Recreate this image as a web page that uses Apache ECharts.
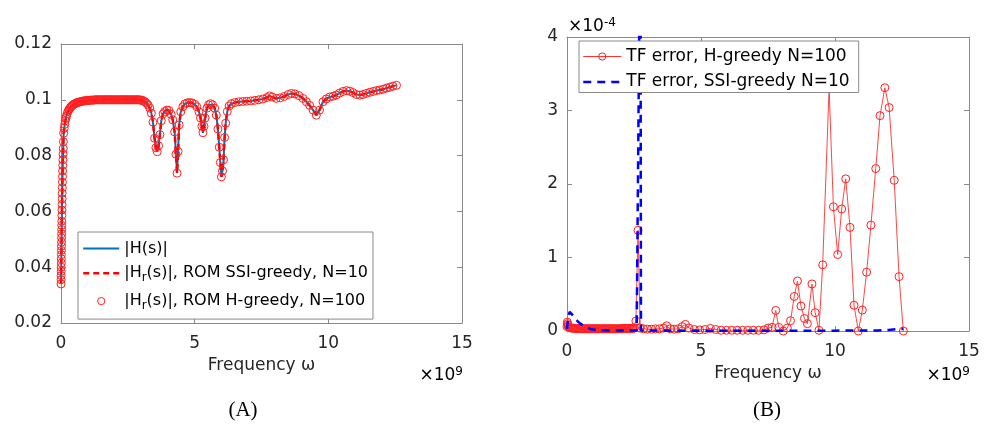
<!DOCTYPE html>
<html>
<head>
<meta charset="utf-8">
<script src="https://cdn.jsdelivr.net/npm/echarts@6/dist/echarts.min.js"></script>
<style>html,body{margin:0;padding:0;background:#fff}#c{width:992px;height:429px}</style>
</head>
<body>
<div id="c"></div>
<script>
// ---------- Panel (A): transfer function magnitude (frequency in units of 1e9) ----------
const freqA = [
  0, 0.002, 0.004, 0.006, 0.008, 0.01, 0.012, 0.014, 0.016, 0.018,
  0.02, 0.022, 0.024, 0.026, 0.028, 0.03, 0.033, 0.036, 0.039, 0.042,
  0.045, 0.049, 0.053, 0.057, 0.061, 0.066, 0.071, 0.077, 0.083, 0.09,
  0.1,
  0.12, 0.14, 0.16, 0.18, 0.2, 0.23, 0.26, 0.29, 0.32, 0.35,
  0.38, 0.41, 0.44, 0.48, 0.52, 0.56, 0.6, 0.64, 0.68, 0.72,
  0.76, 0.8, 0.84, 0.88, 0.92, 0.96, 1.0, 1.04, 1.08, 1.12,
  1.16, 1.2, 1.24, 1.28, 1.32, 1.36, 1.4, 1.44, 1.48, 1.52,
  1.56, 1.6, 1.64, 1.68, 1.72, 1.76, 1.8, 1.84, 1.88, 1.92,
  1.96, 2.0, 2.04, 2.08, 2.12, 2.16, 2.2, 2.24, 2.28, 2.32,
  2.36, 2.4, 2.44, 2.48, 2.52, 2.56, 2.6, 2.64, 2.68, 2.72,
  2.76, 2.8, 2.84, 2.88, 2.92, 2.96, 3.0, 3.05, 3.1, 3.15,
  3.2, 3.26, 3.32, 3.38, 3.44, 3.5, 3.55, 3.6, 3.65, 3.7,
  3.75, 3.82, 3.88, 3.96, 4.04, 4.12, 4.18, 4.25, 4.3, 4.34,
  4.38, 4.42, 4.48, 4.56, 4.63, 4.72, 4.81, 4.9, 5.0, 5.08,
  5.16, 5.22, 5.27, 5.31, 5.35, 5.39, 5.46, 5.52, 5.59, 5.67,
  5.75, 5.81, 5.87, 5.92, 5.96, 6.0, 6.04, 6.08, 6.12, 6.16,
  6.22, 6.29, 6.37, 6.5, 6.65, 6.8, 6.95, 7.1, 7.25, 7.4,
  7.55, 7.7, 7.8, 7.9, 8.05, 8.2, 8.35, 8.5, 8.62, 8.75,
  8.9, 9.05, 9.18, 9.3, 9.43, 9.55, 9.67, 9.8, 9.92, 10.05,
  10.18, 10.3, 10.42, 10.55, 10.68, 10.8, 10.92, 11.05, 11.18, 11.3,
  11.42, 11.55, 11.68, 11.8, 11.92, 12.05, 12.18, 12.3, 12.42, 12.55
];
const magH = [
  0.034, 0.0355, 0.037, 0.0385, 0.04, 0.0415, 0.043, 0.0445, 0.046, 0.0475,
  0.049, 0.0505, 0.052, 0.0535, 0.055, 0.0565, 0.0585, 0.0605, 0.0625, 0.0645,
  0.0665, 0.0685, 0.0705, 0.0725, 0.0745, 0.0765, 0.0785, 0.0805, 0.0825, 0.085,
  0.088,
  0.0898, 0.0912, 0.0925, 0.0933, 0.094, 0.095, 0.0958, 0.0964, 0.0968, 0.0972,
  0.0976, 0.0979, 0.0981, 0.0984, 0.0986, 0.0988, 0.099, 0.0991, 0.0992, 0.0993,
  0.0994, 0.0995, 0.0996, 0.0996, 0.0997, 0.0997, 0.0998, 0.0998, 0.0998, 0.0999,
  0.0999, 0.0999, 0.0999, 0.1, 0.1, 0.1, 0.1, 0.1, 0.1, 0.1,
  0.1, 0.1, 0.1, 0.1, 0.1, 0.1, 0.1, 0.1, 0.1, 0.1,
  0.1, 0.1, 0.1, 0.1, 0.1, 0.1, 0.1, 0.1, 0.1, 0.1,
  0.1, 0.1, 0.1, 0.1, 0.1, 0.1, 0.1, 0.1, 0.1, 0.1,
  0.1, 0.1, 0.1, 0.1, 0.1, 0.0999, 0.0999, 0.0998, 0.0995, 0.0992,
  0.0988, 0.0981, 0.097, 0.0952, 0.092, 0.0862, 0.0828, 0.0814, 0.0835, 0.0875,
  0.0925, 0.095, 0.0958, 0.0963, 0.0962, 0.0948, 0.0928, 0.0885, 0.0805, 0.0737,
  0.0815, 0.091, 0.0957, 0.0975, 0.0985, 0.0989, 0.099, 0.0989, 0.0984, 0.0975,
  0.0957, 0.0935, 0.0905, 0.0882, 0.0905, 0.0935, 0.097, 0.0982, 0.0986, 0.0982,
  0.097, 0.0945, 0.0895, 0.083, 0.0775, 0.0724, 0.0745, 0.0785, 0.0865, 0.0916,
  0.0958, 0.0978, 0.0986, 0.099, 0.0993, 0.0994, 0.0995, 0.0996, 0.0998, 0.1,
  0.1003, 0.1008, 0.1014, 0.101, 0.1005, 0.1007, 0.1012, 0.1019, 0.1023, 0.1021,
  0.1015, 0.1005, 0.0993, 0.098, 0.0963, 0.0945, 0.0963, 0.0993, 0.1003, 0.101,
  0.1013, 0.1017, 0.1024, 0.103, 0.1033, 0.1031, 0.1026, 0.1019, 0.1017, 0.1019,
  0.1023, 0.1027, 0.103, 0.1033, 0.1035, 0.1038, 0.1042, 0.1045, 0.1049, 0.1052
];
// ROM curves coincide with the full model at this scale
const magSSI = magH.slice();
const magGreedy = magH.slice();

// ---------- Panel (B): transfer function error (values in units of 1e-4) ----------
const freqB = [
  0, 0.01, 0.02, 0.03, 0.05, 0.08, 0.12, 0.16, 0.2, 0.24,
  0.28, 0.32, 0.36, 0.4, 0.44, 0.48, 0.52, 0.56, 0.6, 0.64,
  0.68, 0.72, 0.76, 0.8, 0.84, 0.88, 0.92, 0.96, 1.0, 1.04,
  1.08, 1.12, 1.16, 1.2, 1.24, 1.28, 1.32, 1.36, 1.4, 1.44,
  1.48, 1.52, 1.56, 1.6, 1.64, 1.68, 1.72, 1.76, 1.8, 1.84,
  1.88, 1.92, 1.96, 2.0, 2.04, 2.08, 2.12, 2.16, 2.2, 2.24,
  2.28, 2.32, 2.36, 2.4, 2.44, 2.48, 2.52, 2.57, 2.65, 2.73,
  2.85, 3.0, 3.15, 3.3, 3.45, 3.6, 3.72, 3.85, 4.0, 4.15,
  4.3, 4.42, 4.55, 4.75, 4.95, 5.15, 5.35, 5.55, 5.75, 5.95,
  6.15, 6.35, 6.55, 6.75, 6.95, 7.15, 7.35, 7.5, 7.65, 7.79,
  7.9, 8.07, 8.22, 8.34, 8.48, 8.6, 8.73, 8.86, 8.97, 9.14,
  9.26, 9.4, 9.54, 9.78, 9.94, 10.1, 10.25, 10.4, 10.56, 10.71,
  10.87, 11.02, 11.18, 11.34, 11.52, 11.68, 11.86, 12.02, 12.21, 12.39,
  12.55
];
const errGreedy = [
  0.06, 0.12, 0.10, 0.08, 0.06, 0.05, 0.045, 0.04, 0.04, 0.038,
  0.036, 0.035, 0.034, 0.033, 0.032, 0.032, 0.031, 0.03, 0.03, 0.03,
  0.03, 0.03, 0.03, 0.03, 0.03, 0.03, 0.03, 0.03, 0.03, 0.03,
  0.03, 0.03, 0.03, 0.03, 0.03, 0.03, 0.03, 0.03, 0.03, 0.03,
  0.03, 0.03, 0.03, 0.03, 0.03, 0.03, 0.03, 0.03, 0.03, 0.03,
  0.03, 0.03, 0.03, 0.032, 0.032, 0.032, 0.032, 0.033, 0.033, 0.034,
  0.034, 0.035, 0.035, 0.036, 0.036, 0.037, 0.04, 0.135, 1.37, 0.04,
  0.03, 0.025, 0.025, 0.03, 0.03, 0.04, 0.07, 0.03, 0.025, 0.03,
  0.06, 0.09, 0.04, 0.02, 0.015, 0.02, 0.035, 0.02, 0.01, 0.01,
  0.01, 0.01, 0.01, 0.01, 0.01, 0.01, 0.015, 0.04, 0.05, 0.28,
  0.05, 0.0, 0.04, 0.14, 0.47, 0.68, 0.34, 0.17, 0.10, 0.64,
  0.25, 0.01, 0.90, 3.3, 1.69, 1.04, 1.66, 2.07, 1.41, 0.35,
  0.0, 0.285, 0.80, 1.44, 2.21, 2.93, 3.31, 3.04, 2.05, 0.74,
  0.0
];
const freqC = [0, 0.05, 0.1, 0.2, 0.3, 0.4, 0.5, 0.7, 0.9, 1.2, 1.6, 2.0, 2.5, 2.6, 2.74, 2.76, 3.0, 4.0, 5.0, 6.0, 7.0, 8.0, 9.0, 10.0, 11.0, 11.6, 12.0, 12.3, 12.55];
const errSSI = [0.03, 0.2, 0.26, 0.22, 0.17, 0.13, 0.10, 0.05, 0.025, 0.012, 0.008, 0.006, 0.006, 0.01, 6.0, 0.01, 0.006, 0.005, 0.005, 0.004, 0.004, 0.004, 0.004, 0.005, 0.006, 0.008, 0.015, 0.025, 0.03];

// ---------- tick labels / texts ----------
const xTicks = [0, 5, 10, 15];
const yTicksA = [0.02, 0.04, 0.06, 0.08, 0.1, 0.12];
const yTicksB = [0, 1, 2, 3, 4];
const xLabel = 'Frequency ω';
const panelLabels = ['(A)', '(B)'];

const FONT = 'DejaVu Sans';
const AX = '#8a8a8a';
const TXT = '#262626';

function zip(xs, ys) { return xs.map((x, i) => [x, ys[i]]); }

function mkX(gi, pos, labels) {
  return {
    type: 'value', gridIndex: gi, position: pos,
    min: xTicks[0], max: xTicks[xTicks.length - 1], interval: xTicks[1] - xTicks[0],
    axisLine: { show: true, onZero: false, lineStyle: { color: AX, width: 1 } },
    axisTick: { show: true, inside: true, length: 5, lineStyle: { color: AX } },
    splitLine: { show: false },
    axisLabel: { show: labels, fontSize: 17, fontFamily: FONT, color: TXT, margin: 12 },
    name: labels ? xLabel : '', nameLocation: 'middle', nameGap: 30,
    nameTextStyle: { fontSize: 17, fontFamily: FONT, color: TXT }
  };
}
function mkY(gi, pos, labels, ticks, fmt) {
  return {
    type: 'value', gridIndex: gi, position: pos,
    min: ticks[0], max: ticks[ticks.length - 1], interval: ticks[1] - ticks[0],
    axisLine: { show: true, onZero: false, lineStyle: { color: AX, width: 1 } },
    axisTick: { show: true, inside: true, length: 5, lineStyle: { color: AX } },
    splitLine: { show: false },
    axisLabel: { show: labels, fontSize: 17, fontFamily: FONT, color: TXT, margin: 9, formatter: fmt }
  };
}

const richA = {
  t: { fontSize: 16, fontFamily: FONT, color: '#000' },
  s: { fontSize: 12, fontFamily: FONT, color: '#000', padding: [10, 0, 0, 0] }
};
const richB = {
  t: { fontSize: 17, fontFamily: FONT, color: '#000' }
};
const legendText = {
  exact: '{t||H(s)|}',
  ssiA: '{t||H}{s|r}{t|(s)|, ROM SSI-greedy, N=10}',
  greedyA: '{t||H}{s|r}{t|(s)|, ROM H-greedy, N=100}',
  greedyB: '{t|TF error, H-greedy N=100}',
  ssiB: '{t|TF error, SSI-greedy N=10}'
};

const expRich = {
  b: { fontSize: 17, fontFamily: FONT, color: TXT },
  u: { fontSize: 12, fontFamily: FONT, color: TXT, padding: [0, 0, 9, 0] }
};

const option = {
  animation: false,
  backgroundColor: '#fff',
  grid: [
    { left: 61, top: 44, width: 401, height: 279 },
    { left: 567, top: 37, width: 402, height: 294 }
  ],
  xAxis: [mkX(0, 'bottom', true), mkX(0, 'top', false), mkX(1, 'bottom', true), mkX(1, 'top', false)],
  yAxis: [
    mkY(0, 'left', true, yTicksA, v => String(+v.toFixed(2))),
    mkY(0, 'right', false, yTicksA),
    mkY(1, 'left', true, yTicksB, v => String(Math.round(v))),
    mkY(1, 'right', false, yTicksB)
  ],
  legend: [
    {
      left: 78, top: 232, orient: 'vertical',
      backgroundColor: '#fff', borderColor: AX, borderWidth: 1,
      padding: [8.5, 5, 7, 4], itemGap: 8.8, itemWidth: 36, itemHeight: 9,
      selectedMode: false,
      data: [
        { name: 'exact', lineStyle: { width: 2 }, itemStyle: { opacity: 0 } },
        { name: 'ssiA', lineStyle: { width: 2.5 }, itemStyle: { opacity: 0 } },
        { name: 'greedyA', itemStyle: { borderWidth: 1 } }
      ],
      formatter: n => legendText[n],
      textStyle: { rich: richA }
    },
    {
      left: 579, top: 41, orient: 'vertical',
      backgroundColor: '#fff', borderColor: AX, borderWidth: 1,
      padding: [7, 9, 2, 3], itemGap: 8.5, itemWidth: 38, itemHeight: 9,
      selectedMode: false,
      data: [
        { name: 'greedyB', lineStyle: { width: 1 }, itemStyle: { borderWidth: 1 } },
        { name: 'ssiB', lineStyle: { width: 2.5 }, itemStyle: { opacity: 0 } }
      ],
      formatter: n => legendText[n],
      textStyle: { rich: richB }
    }
  ],
  series: [
    {
      name: 'exact', type: 'line', xAxisIndex: 0, yAxisIndex: 0,
      data: zip(freqA, magH), symbol: 'none', showSymbol: false,
      lineStyle: { color: '#0072BD', width: 2 }, itemStyle: { color: '#0072BD' }, z: 2
    },
    {
      name: 'ssiA', type: 'line', xAxisIndex: 0, yAxisIndex: 0,
      data: zip(freqA, magSSI), symbol: 'none', showSymbol: false,
      lineStyle: { color: '#ff0000', width: 2.5, type: [6, 4] }, itemStyle: { color: '#ff0000' }, z: 3
    },
    {
      name: 'greedyA', type: 'line', xAxisIndex: 0, yAxisIndex: 0,
      data: zip(freqA, magGreedy), symbol: 'circle', symbolSize: 8, showAllSymbol: true,
      lineStyle: { width: 0, color: '#ff0000' },
      itemStyle: { color: 'rgba(255,255,255,0)', borderColor: '#ff2020', borderWidth: 1 }, z: 4
    },
    {
      name: 'greedyB', type: 'line', xAxisIndex: 2, yAxisIndex: 2,
      data: zip(freqB, errGreedy), symbol: 'circle', symbolSize: 8, showAllSymbol: true,
      lineStyle: { width: 0.9, color: '#ff3030' },
      itemStyle: { color: 'rgba(255,255,255,0)', borderColor: '#ff2020', borderWidth: 1 }, z: 2
    },
    {
      name: 'ssiB', type: 'line', xAxisIndex: 2, yAxisIndex: 2,
      data: zip(freqC, errSSI), symbol: 'none', showSymbol: false,
      lineStyle: { color: '#0000ff', width: 2.5, type: [8, 6] }, itemStyle: { color: '#0000ff' }, z: 3
    }
  ],
  graphic: [
    { type: 'text', x: 463, y: 376, style: { text: '{b|×10}{u|9}', rich: expRich, align: 'right', verticalAlign: 'middle' } },
    { type: 'text', x: 970, y: 376, style: { text: '{b|×10}{u|9}', rich: expRich, align: 'right', verticalAlign: 'middle' } },
    { type: 'text', x: 568, y: 27, style: { text: '{b|×10}{u|-4}', rich: expRich, align: 'left', verticalAlign: 'middle' } },
    { type: 'text', x: 243, y: 410, style: { text: panelLabels[0], font: '21px "Liberation Serif"', fill: '#000', align: 'center', verticalAlign: 'middle' } },
    { type: 'text', x: 767, y: 410, style: { text: panelLabels[1], font: '21px "Liberation Serif"', fill: '#000', align: 'center', verticalAlign: 'middle' } }
  ]
};

const chart = echarts.init(document.getElementById('c'), null, { renderer: 'canvas' });
chart.setOption(option);
</script>
</body>
</html>
